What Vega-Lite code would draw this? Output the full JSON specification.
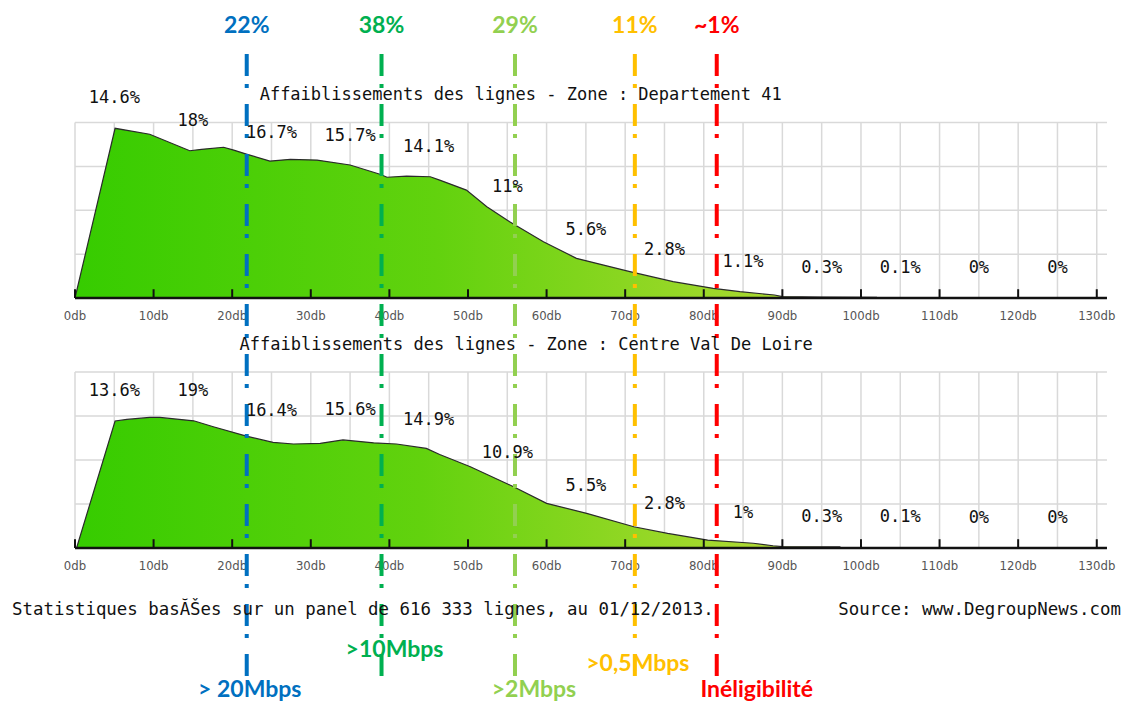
{
  "$schema": "https://vega.github.io/schema/vega-lite/v6.json",
  "autosize": {"type": "fit", "contains": "padding"},
  "width": 1126,
  "height": 705,
  "padding": 0,
  "background": "white",
  "config": {
    "view": {"stroke": null},
    "axis": {"disable": true},
    "axisX": {"disable": true},
    "axisY": {"disable": true},
    "legend": {"disable": true}
  },
  "datasets": {
    "curve": [
      {"panel": "top", "db": 0, "v": 0},
      {"panel": "top", "db": 5.1, "v": 96.7},
      {"panel": "top", "db": 9.5, "v": 93.3},
      {"panel": "top", "db": 14.6, "v": 83.9},
      {"panel": "top", "db": 16.1, "v": 84.7},
      {"panel": "top", "db": 18.9, "v": 85.9},
      {"panel": "top", "db": 20.2, "v": 84.3},
      {"panel": "top", "db": 21.8, "v": 82},
      {"panel": "top", "db": 24.8, "v": 78},
      {"panel": "top", "db": 27.4, "v": 79},
      {"panel": "top", "db": 30.8, "v": 78.6},
      {"panel": "top", "db": 35, "v": 75.8},
      {"panel": "top", "db": 38.8, "v": 70.5},
      {"panel": "top", "db": 39.7, "v": 68.8},
      {"panel": "top", "db": 42.2, "v": 69.5},
      {"panel": "top", "db": 45.2, "v": 69.1},
      {"panel": "top", "db": 46.4, "v": 67.2},
      {"panel": "top", "db": 49.8, "v": 61.5},
      {"panel": "top", "db": 52.4, "v": 52},
      {"panel": "top", "db": 55.3, "v": 43.5},
      {"panel": "top", "db": 59.6, "v": 32.1},
      {"panel": "top", "db": 63.8, "v": 22.6},
      {"panel": "top", "db": 70.6, "v": 15},
      {"panel": "top", "db": 76.1, "v": 9.3},
      {"panel": "top", "db": 81.2, "v": 5.5},
      {"panel": "top", "db": 84.6, "v": 3.6},
      {"panel": "top", "db": 89, "v": 1.7},
      {"panel": "top", "db": 90, "v": 0.8},
      {"panel": "top", "db": 95, "v": 0.5},
      {"panel": "top", "db": 102, "v": 0.4},
      {"panel": "top", "db": 102.2, "v": 0},
      {"panel": "bottom", "db": 0.2, "v": 0},
      {"panel": "bottom", "db": 5.1, "v": 72.2},
      {"panel": "bottom", "db": 6.6, "v": 73.1},
      {"panel": "bottom", "db": 9.5, "v": 74.2},
      {"panel": "bottom", "db": 10.8, "v": 74.2},
      {"panel": "bottom", "db": 15.1, "v": 72.3},
      {"panel": "bottom", "db": 17.6, "v": 68.9},
      {"panel": "bottom", "db": 21.8, "v": 63.6},
      {"panel": "bottom", "db": 25.2, "v": 60},
      {"panel": "bottom", "db": 27.8, "v": 59.1},
      {"panel": "bottom", "db": 31.2, "v": 59.5},
      {"panel": "bottom", "db": 34.1, "v": 61.4},
      {"panel": "bottom", "db": 38, "v": 59.8},
      {"panel": "bottom", "db": 40.9, "v": 59.1},
      {"panel": "bottom", "db": 44.7, "v": 56.6},
      {"panel": "bottom", "db": 46.4, "v": 53.1},
      {"panel": "bottom", "db": 50.3, "v": 46.2},
      {"panel": "bottom", "db": 55.8, "v": 34.8},
      {"panel": "bottom", "db": 60, "v": 25.4},
      {"panel": "bottom", "db": 65.1, "v": 19.7},
      {"panel": "bottom", "db": 71.1, "v": 12.1},
      {"panel": "bottom", "db": 75.4, "v": 8.3},
      {"panel": "bottom", "db": 80.5, "v": 4.5},
      {"panel": "bottom", "db": 86.3, "v": 2.7},
      {"panel": "bottom", "db": 88.8, "v": 1.3},
      {"panel": "bottom", "db": 90, "v": 0.8},
      {"panel": "bottom", "db": 97.3, "v": 0.6},
      {"panel": "bottom", "db": 97.5, "v": 0}
    ],
    "pct": [
      {"panel": "top", "db": 5, "label": "14.6%", "level": 97},
      {"panel": "top", "db": 15, "label": "18%", "level": 83.5},
      {"panel": "top", "db": 25, "label": "16.7%", "level": 76.8},
      {"panel": "top", "db": 35, "label": "15.7%", "level": 75.3},
      {"panel": "top", "db": 45, "label": "14.1%", "level": 69.2},
      {"panel": "top", "db": 55, "label": "11%", "level": 46},
      {"panel": "top", "db": 65, "label": "5.6%", "level": 21.7},
      {"panel": "top", "db": 75, "label": "2.8%", "level": 10.4},
      {"panel": "top", "db": 85, "label": "1.1%", "level": 3.7},
      {"panel": "top", "db": 95, "label": "0.3%", "level": 0},
      {"panel": "top", "db": 105, "label": "0.1%", "level": 0},
      {"panel": "top", "db": 115, "label": "0%", "level": 0},
      {"panel": "top", "db": 125, "label": "0%", "level": 0},
      {"panel": "bottom", "db": 5, "label": "13.6%", "level": 72.2},
      {"panel": "bottom", "db": 15, "label": "19%", "level": 72.2},
      {"panel": "bottom", "db": 25, "label": "16.4%", "level": 60.8},
      {"panel": "bottom", "db": 35, "label": "15.6%", "level": 61.4},
      {"panel": "bottom", "db": 45, "label": "14.9%", "level": 55.7},
      {"panel": "bottom", "db": 55, "label": "10.9%", "level": 37.1},
      {"panel": "bottom", "db": 65, "label": "5.5%", "level": 18.2},
      {"panel": "bottom", "db": 75, "label": "2.8%", "level": 8},
      {"panel": "bottom", "db": 85, "label": "1%", "level": 3},
      {"panel": "bottom", "db": 95, "label": "0.3%", "level": 0.8},
      {"panel": "bottom", "db": 105, "label": "0.1%", "level": 0.5},
      {"panel": "bottom", "db": 115, "label": "0%", "level": 0},
      {"panel": "bottom", "db": 125, "label": "0%", "level": 0}
    ],
    "xgrid": [
      {"db": 0}, {"db": 5}, {"db": 10}, {"db": 15}, {"db": 20}, {"db": 25}, {"db": 30},
      {"db": 35}, {"db": 40}, {"db": 45}, {"db": 50}, {"db": 55}, {"db": 60}, {"db": 65},
      {"db": 70}, {"db": 75}, {"db": 80}, {"db": 85}, {"db": 90}, {"db": 95}, {"db": 100},
      {"db": 105}, {"db": 110}, {"db": 115}, {"db": 120}, {"db": 125}, {"db": 130}
    ],
    "ygrid": [{"v": 25}, {"v": 50}, {"v": 75}, {"v": 100}],
    "ticks": [
      {"db": 0, "label": "0db"}, {"db": 10, "label": "10db"}, {"db": 20, "label": "20db"},
      {"db": 30, "label": "30db"}, {"db": 40, "label": "40db"}, {"db": 50, "label": "50db"},
      {"db": 60, "label": "60db"}, {"db": 70, "label": "70db"}, {"db": 80, "label": "80db"},
      {"db": 90, "label": "90db"}, {"db": 100, "label": "100db"}, {"db": 110, "label": "110db"},
      {"db": 120, "label": "120db"}, {"db": 130, "label": "130db"}
    ],
    "speeds": [
      {"speed": "> 20Mbps", "db": 21.85, "share": "22%"},
      {"speed": ">10Mbps", "db": 39.0, "share": "38%"},
      {"speed": ">2Mbps", "db": 55.98, "share": "29%"},
      {"speed": ">0,5Mbps", "db": 71.23, "share": "11%"},
      {"speed": "Inéligibilité", "db": 81.65, "share": "~1%"}
    ],
    "notes": [
      {"side": "left", "text": "Statistiques basĂŠes sur un panel de 616 333 lignes, au 01/12/2013."},
      {"side": "right", "text": "Source: www.DegroupNews.com"}
    ],
    "titles": [
      {"panel": "top", "text": "Affaiblissements des lignes - Zone : Departement 41"},
      {"panel": "bottom", "text": "Affaiblissements des lignes - Zone : Centre Val De Loire"}
    ]
  },
  "resolve": {"scale": {"y": "independent", "color": "independent"}},
  "layer": [
    {
      "data": {"name": "xgrid"},
      "mark": {"type": "rule", "color": "#d9d9d9", "strokeWidth": 1.5},
      "encoding": {
        "x": {"field": "db", "type": "quantitative", "scale": {"domain": [-9.542, 133.72], "nice": false, "zero": false}},
        "y": {"datum": 0, "type": "quantitative", "scale": {"domain": [-231.9, 169.8], "nice": false, "zero": false}},
        "y2": {"datum": 100}
      }
    },
    {
      "data": {"name": "ygrid"},
      "mark": {"type": "rule", "color": "#d9d9d9", "strokeWidth": 1.5},
      "encoding": {
        "x": {"datum": 0, "type": "quantitative", "scale": {"domain": [-9.542, 133.72], "nice": false, "zero": false}},
        "x2": {"datum": 131.3},
        "y": {"field": "v", "type": "quantitative", "scale": {"domain": [-231.9, 169.8], "nice": false, "zero": false}}
      }
    },
    {
      "data": {"name": "curve"},
      "transform": [{"filter": "datum.panel === 'top'"}],
      "mark": {
        "type": "area",
        "opacity": 1,
        "fillOpacity": 1,
        "color": {"gradient": "linear", "x1": 0, "y1": 0, "x2": 1, "y2": 0,
          "stops": [{"offset": 0, "color": "#36cc00"}, {"offset": 0.45, "color": "#62d20e"}, {"offset": 0.8, "color": "#9ed82a"}, {"offset": 1, "color": "#c0dc3e"}]},
        "line": {"color": "#2a2a2a", "strokeWidth": 1.2}
      },
      "encoding": {
        "x": {"field": "db", "type": "quantitative", "scale": {"domain": [-9.542, 133.72], "nice": false, "zero": false}},
        "y": {"field": "v", "type": "quantitative", "scale": {"domain": [-231.9, 169.8], "nice": false, "zero": false}},
        "y2": {"datum": 0}
      }
    },
    {
      "data": {"name": "ticks"},
      "mark": {"type": "rule", "color": "#111", "strokeWidth": 2},
      "encoding": {
        "x": {"field": "db", "type": "quantitative", "scale": {"domain": [-9.542, 133.72], "nice": false, "zero": false}},
        "y": {"datum": 0, "type": "quantitative", "scale": {"domain": [-231.9, 169.8], "nice": false, "zero": false}},
        "y2": {"datum": 5}
      }
    },
    {
      "data": {"values": [{}]},
      "mark": {"type": "rule", "color": "#111", "strokeWidth": 2.5},
      "encoding": {
        "x": {"datum": 0, "type": "quantitative", "scale": {"domain": [-9.542, 133.72], "nice": false, "zero": false}},
        "x2": {"datum": 131.3},
        "y": {"datum": 0, "type": "quantitative", "scale": {"domain": [-231.9, 169.8], "nice": false, "zero": false}}
      }
    },
    {
      "data": {"name": "ticks"},
      "mark": {"type": "text", "font": "DejaVu Sans Condensed, Liberation Sans Narrow, DejaVu Sans", "fontSize": 13, "color": "#555", "baseline": "middle", "align": "center"},
      "encoding": {
        "x": {"field": "db", "type": "quantitative", "scale": {"domain": [-9.542, 133.72], "nice": false, "zero": false}},
        "y": {"datum": -10, "type": "quantitative", "scale": {"domain": [-231.9, 169.8], "nice": false, "zero": false}},
        "text": {"field": "label"}
      }
    },
    {
      "data": {"name": "xgrid"},
      "mark": {"type": "rule", "color": "#d9d9d9", "strokeWidth": 1.5},
      "encoding": {
        "x": {"field": "db", "type": "quantitative", "scale": {"domain": [-9.542, 133.72], "nice": false, "zero": false}},
        "y": {"datum": 0, "type": "quantitative", "scale": {"domain": [-89.2, 311.4], "nice": false, "zero": false}},
        "y2": {"datum": 100}
      }
    },
    {
      "data": {"name": "ygrid"},
      "mark": {"type": "rule", "color": "#d9d9d9", "strokeWidth": 1.5},
      "encoding": {
        "x": {"datum": 0, "type": "quantitative", "scale": {"domain": [-9.542, 133.72], "nice": false, "zero": false}},
        "x2": {"datum": 131.3},
        "y": {"field": "v", "type": "quantitative", "scale": {"domain": [-89.2, 311.4], "nice": false, "zero": false}}
      }
    },
    {
      "data": {"name": "curve"},
      "transform": [{"filter": "datum.panel === 'bottom'"}],
      "mark": {
        "type": "area",
        "opacity": 1,
        "fillOpacity": 1,
        "color": {"gradient": "linear", "x1": 0, "y1": 0, "x2": 1, "y2": 0,
          "stops": [{"offset": 0, "color": "#36cc00"}, {"offset": 0.45, "color": "#62d20e"}, {"offset": 0.8, "color": "#9ed82a"}, {"offset": 1, "color": "#c0dc3e"}]},
        "line": {"color": "#2a2a2a", "strokeWidth": 1.2}
      },
      "encoding": {
        "x": {"field": "db", "type": "quantitative", "scale": {"domain": [-9.542, 133.72], "nice": false, "zero": false}},
        "y": {"field": "v", "type": "quantitative", "scale": {"domain": [-89.2, 311.4], "nice": false, "zero": false}},
        "y2": {"datum": 0}
      }
    },
    {
      "data": {"name": "ticks"},
      "mark": {"type": "rule", "color": "#111", "strokeWidth": 2},
      "encoding": {
        "x": {"field": "db", "type": "quantitative", "scale": {"domain": [-9.542, 133.72], "nice": false, "zero": false}},
        "y": {"datum": 0, "type": "quantitative", "scale": {"domain": [-89.2, 311.4], "nice": false, "zero": false}},
        "y2": {"datum": 5}
      }
    },
    {
      "data": {"values": [{}]},
      "mark": {"type": "rule", "color": "#111", "strokeWidth": 2.5},
      "encoding": {
        "x": {"datum": 0, "type": "quantitative", "scale": {"domain": [-9.542, 133.72], "nice": false, "zero": false}},
        "x2": {"datum": 131.3},
        "y": {"datum": 0, "type": "quantitative", "scale": {"domain": [-89.2, 311.4], "nice": false, "zero": false}}
      }
    },
    {
      "data": {"name": "ticks"},
      "mark": {"type": "text", "font": "DejaVu Sans Condensed, Liberation Sans Narrow, DejaVu Sans", "fontSize": 13, "color": "#555", "baseline": "middle", "align": "center"},
      "encoding": {
        "x": {"field": "db", "type": "quantitative", "scale": {"domain": [-9.542, 133.72], "nice": false, "zero": false}},
        "y": {"datum": -10, "type": "quantitative", "scale": {"domain": [-89.2, 311.4], "nice": false, "zero": false}},
        "text": {"field": "label"}
      }
    },
    {
      "data": {"name": "speeds"},
      "mark": {"type": "rule", "strokeWidth": 4, "strokeDash": [22, 8, 4, 16], "strokeCap": "butt"},
      "encoding": {
        "x": {"field": "db", "type": "quantitative", "scale": {"domain": [-9.542, 133.72], "nice": false, "zero": false}},
        "y": {"datum": 139, "type": "quantitative", "scale": {"domain": [-231.9, 169.8], "nice": false, "zero": false}},
        "y2": {"datum": -218.8},
        "color": {"field": "speed", "type": "nominal", "legend": null,
          "scale": {"domain": ["> 20Mbps", ">10Mbps", ">2Mbps", ">0,5Mbps", "Inéligibilité"], "range": ["#0070c0", "#00b050", "#92d050", "#ffc000", "#ff0000"]}}
      }
    },
    {
      "data": {"name": "pct"},
      "transform": [{"filter": "datum.panel === 'top'"}],
      "mark": {"type": "text", "font": "DejaVu Sans Mono", "fontSize": 17, "color": "#111", "baseline": "middle", "align": "center", "dy": -30},
      "encoding": {
        "x": {"field": "db", "type": "quantitative", "scale": {"domain": [-9.542, 133.72], "nice": false, "zero": false}},
        "y": {"field": "level", "type": "quantitative", "scale": {"domain": [-231.9, 169.8], "nice": false, "zero": false}},
        "text": {"field": "label"}
      }
    },
    {
      "data": {"name": "pct"},
      "transform": [{"filter": "datum.panel === 'bottom'"}],
      "mark": {"type": "text", "font": "DejaVu Sans Mono", "fontSize": 17, "color": "#111", "baseline": "middle", "align": "center", "dy": -30},
      "encoding": {
        "x": {"field": "db", "type": "quantitative", "scale": {"domain": [-9.542, 133.72], "nice": false, "zero": false}},
        "y": {"field": "level", "type": "quantitative", "scale": {"domain": [-89.2, 311.4], "nice": false, "zero": false}},
        "text": {"field": "label"}
      }
    },
    {
      "data": {"name": "titles"},
      "transform": [{"filter": "datum.panel === 'top'"}],
      "mark": {"type": "text", "font": "DejaVu Sans Mono", "fontSize": 17, "color": "#111", "baseline": "middle", "align": "center"},
      "encoding": {
        "x": {"datum": 56.7, "type": "quantitative", "scale": {"domain": [-9.542, 133.72], "nice": false, "zero": false}},
        "y": {"datum": 115.7, "type": "quantitative", "scale": {"domain": [-231.9, 169.8], "nice": false, "zero": false}},
        "text": {"field": "text"}
      }
    },
    {
      "data": {"name": "titles"},
      "transform": [{"filter": "datum.panel === 'bottom'"}],
      "mark": {"type": "text", "font": "DejaVu Sans Mono", "fontSize": 17, "color": "#111", "baseline": "middle", "align": "center"},
      "encoding": {
        "x": {"datum": 57.4, "type": "quantitative", "scale": {"domain": [-9.542, 133.72], "nice": false, "zero": false}},
        "y": {"datum": 115.3, "type": "quantitative", "scale": {"domain": [-89.2, 311.4], "nice": false, "zero": false}},
        "text": {"field": "text"}
      }
    },
    {
      "data": {"name": "speeds"},
      "mark": {"type": "text", "font": "Lato", "fontWeight": "bold", "fontSize": 23, "baseline": "middle", "align": "center"},
      "encoding": {
        "x": {"field": "db", "type": "quantitative", "scale": {"domain": [-9.542, 133.72], "nice": false, "zero": false}},
        "y": {"datum": 155, "type": "quantitative", "scale": {"domain": [-231.9, 169.8], "nice": false, "zero": false}},
        "text": {"field": "share"},
        "color": {"field": "speed", "type": "nominal", "legend": null,
          "scale": {"domain": ["> 20Mbps", ">10Mbps", ">2Mbps", ">0,5Mbps", "Inéligibilité"], "range": ["#0070c0", "#00b050", "#92d050", "#ffc000", "#ff0000"]}}
      }
    },
    {
      "data": {"name": "speeds"},
      "transform": [{"filter": "datum.speed === '> 20Mbps'"}],
      "mark": {"type": "text", "font": "Lato", "fontWeight": "bold", "fontSize": 23, "baseline": "middle", "align": "center", "dx": 3, "color": "#0070c0"},
      "encoding": {
        "x": {"field": "db", "type": "quantitative", "scale": {"domain": [-9.542, 133.72], "nice": false, "zero": false}},
        "y": {"datum": -223.4, "type": "quantitative", "scale": {"domain": [-231.9, 169.8], "nice": false, "zero": false}},
        "text": {"field": "speed"}
      }
    },
    {
      "data": {"name": "speeds"},
      "transform": [{"filter": "datum.speed === '>10Mbps'"}],
      "mark": {"type": "text", "font": "Lato", "fontWeight": "bold", "fontSize": 23, "baseline": "middle", "align": "center", "dx": 13, "color": "#00b050"},
      "encoding": {
        "x": {"field": "db", "type": "quantitative", "scale": {"domain": [-9.542, 133.72], "nice": false, "zero": false}},
        "y": {"datum": -200.6, "type": "quantitative", "scale": {"domain": [-231.9, 169.8], "nice": false, "zero": false}},
        "text": {"field": "speed"}
      }
    },
    {
      "data": {"name": "speeds"},
      "transform": [{"filter": "datum.speed === '>2Mbps'"}],
      "mark": {"type": "text", "font": "Lato", "fontWeight": "bold", "fontSize": 23, "baseline": "middle", "align": "center", "dx": 19, "color": "#92d050"},
      "encoding": {
        "x": {"field": "db", "type": "quantitative", "scale": {"domain": [-9.542, 133.72], "nice": false, "zero": false}},
        "y": {"datum": -223.4, "type": "quantitative", "scale": {"domain": [-231.9, 169.8], "nice": false, "zero": false}},
        "text": {"field": "speed"}
      }
    },
    {
      "data": {"name": "speeds"},
      "transform": [{"filter": "datum.speed === '>0,5Mbps'"}],
      "mark": {"type": "text", "font": "Lato", "fontWeight": "bold", "fontSize": 23, "baseline": "middle", "align": "center", "dx": 3, "color": "#ffc000"},
      "encoding": {
        "x": {"field": "db", "type": "quantitative", "scale": {"domain": [-9.542, 133.72], "nice": false, "zero": false}},
        "y": {"datum": -208.5, "type": "quantitative", "scale": {"domain": [-231.9, 169.8], "nice": false, "zero": false}},
        "text": {"field": "speed"}
      }
    },
    {
      "data": {"name": "speeds"},
      "transform": [{"filter": "datum.speed === 'Inéligibilité'"}],
      "mark": {"type": "text", "font": "Lato", "fontWeight": "bold", "fontSize": 23, "baseline": "middle", "align": "center", "dx": 40, "color": "#ff0000"},
      "encoding": {
        "x": {"field": "db", "type": "quantitative", "scale": {"domain": [-9.542, 133.72], "nice": false, "zero": false}},
        "y": {"datum": -223.4, "type": "quantitative", "scale": {"domain": [-231.9, 169.8], "nice": false, "zero": false}},
        "text": {"field": "speed"}
      }
    },
    {
      "data": {"name": "notes"},
      "transform": [{"filter": "datum.side === 'left'"}],
      "mark": {"type": "text", "font": "DejaVu Sans Mono", "fontSize": 17.4, "color": "#111", "baseline": "middle", "align": "left"},
      "encoding": {
        "x": {"datum": -8.0, "type": "quantitative", "scale": {"domain": [-9.542, 133.72], "nice": false, "zero": false}},
        "y": {"datum": -177.8, "type": "quantitative", "scale": {"domain": [-231.9, 169.8], "nice": false, "zero": false}},
        "text": {"field": "text"}
      }
    },
    {
      "data": {"name": "notes"},
      "transform": [{"filter": "datum.side === 'right'"}],
      "mark": {"type": "text", "font": "DejaVu Sans Mono", "fontSize": 17.4, "color": "#111", "baseline": "middle", "align": "right"},
      "encoding": {
        "x": {"datum": 133.08, "type": "quantitative", "scale": {"domain": [-9.542, 133.72], "nice": false, "zero": false}},
        "y": {"datum": -177.8, "type": "quantitative", "scale": {"domain": [-231.9, 169.8], "nice": false, "zero": false}},
        "text": {"field": "text"}
      }
    }
  ]
}
